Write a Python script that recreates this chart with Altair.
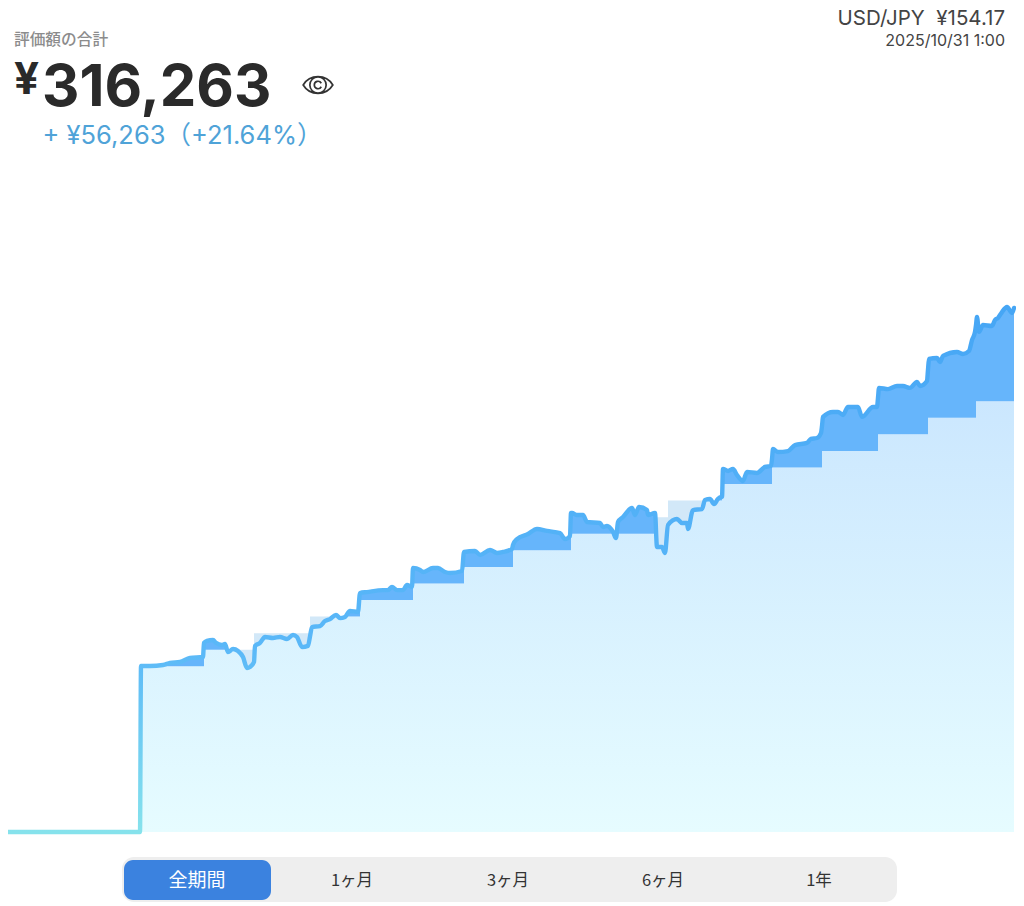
import bisect
import altair as alt
import pandas as pd

# Portfolio value (x position along the time axis, value in yen)
line_t = [8, 140, 141, 143, 150, 163, 170, 180, 190, 203, 204, 207, 213, 216, 222, 225, 228, 233, 238, 243, 247, 250, 254, 255,
          260, 265, 273, 280, 287, 293, 297, 302, 308, 310, 312, 320, 325, 330, 336, 340, 345, 350, 358, 360, 367, 383, 388,
          392, 397, 403, 407, 412, 413, 420, 423, 433, 438, 445, 450, 462, 464, 475, 480, 490, 497, 503, 512, 513, 517, 528,
          537, 547, 560, 565, 570, 571, 572, 577, 583, 587, 600, 603, 607, 613, 616, 618, 623, 632, 635, 639, 647, 648, 655,
          657, 662, 665, 668, 677, 682, 687, 688, 693, 702, 705, 710, 714, 718, 721, 722, 723, 728, 733, 737, 743, 747, 757,
          765, 771, 772, 773, 778, 788, 795, 807, 811, 817, 821, 822, 823, 833, 838, 843, 848, 858, 862, 873, 877, 878, 879,
          888, 897, 903, 910, 917, 920, 927, 928, 929, 937, 940, 943, 957, 963, 969, 972, 975, 976, 977, 979, 983, 992, 995,
          998, 1002, 1007, 1012, 1014]
line_v = [0, 0, 100200, 100200, 100200, 100800, 102000, 102600, 105000, 105600, 114100, 115300, 115900, 114100, 112900, 113500,
          108600, 110400, 109200, 105600, 99000, 99600, 102600, 112300, 114100, 117700, 117100, 117700, 116500, 118900, 117700,
          111600, 112300, 118000, 123700, 124300, 127300, 128500, 131000, 129100, 129800, 133400, 132800, 144200, 144800, 146000,
          146000, 147900, 146000, 146000, 149100, 147900, 159300, 158100, 156900, 159300, 159300, 156900, 156300, 157500, 169000,
          169600, 167200, 170200, 168400, 169000, 170800, 173200, 176800, 179800, 182900, 181700, 180400, 176800, 178600, 192500,
          192500, 191300, 191300, 187100, 186500, 184100, 184700, 181100, 177400, 187100, 190100, 195500, 191300, 196100, 194300,
          191300, 192500, 172000, 172000, 168400, 185300, 188900, 186500, 186500, 182900, 194300, 194900, 200400, 201000, 197900,
          201000, 202200, 202200, 219100, 217900, 219100, 215400, 211800, 217300, 216700, 220300, 220900, 225000, 231100, 229300,
          229900, 233500, 234800, 237200, 237800, 240800, 245000, 250500, 253500, 253500, 251700, 256500, 256500, 250500, 256500,
          256500, 262000, 268000, 267300, 269200, 269200, 268000, 271600, 269200, 272200, 279000, 285500, 286100, 283600, 287300,
          289700, 288500, 290300, 296900, 301800, 306000, 310800, 301800, 306000, 305400, 309000, 310200, 313800, 316800, 313200,
          316263]

# Invested principal: start of each step and its amount in yen
step_t = [141, 204, 254, 310, 360, 413, 464, 513, 571, 655, 668, 722, 772, 822, 878, 928, 976]
step_v = [100000, 110000, 120000, 130000, 140000, 150000, 160000, 170000, 180000, 190000, 200000, 210000, 220000, 230000,
          240000, 250000, 260000]

title_label = "評価額の合計"
total_symbol = "¥"
total_value = "316,263"
gain_label = "+ ¥56,263（+21.64%）"
fx_label = "USD/JPY\u00a0\u00a0¥154.17"
date_label = "2025/10/31 1:00"
tabs = ["全期間", "1ヶ月", "3ヶ月", "6ヶ月", "1年"]
tab_center = [189, 344, 500, 655, 811]


def step_at(t):
    i = bisect.bisect_right(step_t, t) - 1
    return step_v[i] if i >= 0 else 0


rows = []
for t, v in zip(line_t, line_v):
    s = step_at(t)
    if t in step_t and t != 141:
        prev = step_v[step_t.index(t) - 1]
        rows.append(dict(t=t, line=v, step=prev, low=min(v, prev), high=max(v, prev), zero=0))
    rows.append(dict(t=t, line=v, step=s, low=min(v, s), high=max(v, s), zero=0))
df = pd.DataFrame(rows)

W, H = 1008, 894
xs = alt.Scale(domain=[8, 1016], range=[0, W], nice=False, zero=False)
ys = alt.Scale(domain=[-42245, 497284], range=[H, 0], nice=False, zero=False)
X = alt.X("t:Q", scale=xs, axis=None)


def Y(f):
    return alt.Y(f + ":Q", scale=ys, axis=None)


base = alt.Chart(df).mark_area(
    interpolate="linear",
    color=alt.Gradient(gradient="linear", x1=0, x2=0, y1=0, y2=1,
                       stops=[alt.GradientStop(color="#cbe7fe", offset=0),
                              alt.GradientStop(color="#e6fcff", offset=1)]),
).encode(x=X, y=Y("low"), y2="zero:Q")
dark = alt.Chart(df).mark_area(color="#66b5fb").encode(x=X, y=Y("high"), y2="step:Q")
patch = alt.Chart(df).mark_area(color="#d2e8f8").encode(x=X, y=Y("step"), y2="low:Q")
line = alt.Chart(pd.DataFrame(dict(t=line_t, v=line_v))).mark_line(
    strokeWidth=4.4, strokeJoin="round", strokeCap="round", interpolate="monotone",
    color=alt.Gradient(gradient="linear", x1=0, x2=0, y1=0, y2=1,
                       stops=[alt.GradientStop(color="#46a6f5", offset=0),
                              alt.GradientStop(color="#5ab8f8", offset=0.65),
                              alt.GradientStop(color="#86e2ec", offset=1)]),
).encode(x=X, y=alt.Y("v:Q", scale=ys, axis=None))

LAT = "Inter, 'Noto Sans CJK JP', sans-serif"
JP = "'Noto Sans CJK JP', sans-serif"


def text(s, x, y, size, color, font=LAT, weight="normal", align="left"):
    return alt.Chart(pd.DataFrame({"s": [s]})).mark_text(
        fontSize=size, color=color, font=font, fontWeight=weight, align=align, baseline="middle"
    ).encode(x=alt.value(x), y=alt.value(y), text="s:N")


def rect(x, x2, y, y2, color, r, **kw):
    return alt.Chart(pd.DataFrame({"a": [0]})).mark_rect(color=color, cornerRadius=r, **kw).encode(
        x=alt.value(x), x2=alt.value(x2), y=alt.value(y), y2=alt.value(y2))


eye = alt.Chart(pd.DataFrame({"a": [0]})).mark_point(
    shape="M-1,0 C-0.55,-0.75 0.55,-0.75 1,0 C0.55,0.75 -0.55,0.75 -1,0 Z "
          "M-0.55,0 A0.55,0.55 0 1 1 0.55,0 A0.55,0.55 0 1 1 -0.55,0 Z "
          "M0.22,-0.12 A0.25,0.25 0 1 0 0.22,0.12",
    filled=False, stroke="#333333", strokeWidth=1.7, size=880, opacity=1,
).encode(x=alt.value(310), y=alt.value(77))

layers = [base, patch, dark, line,
          text(title_label, 6, 32, 15.7, "#8c8c8c", JP, 500),
          text(total_symbol, 6, 73, 44, "#2a2a2a", LAT, "bold"),
          text(total_value, 34, 81, 58, "#2a2a2a", LAT, "bold"),
          eye,
          text(gain_label, 34.5, 128, 25.5, "#4fa3d8"),
          text(fx_label, 997, 10.5, 20.5, "#444444", align="right"),
          text(date_label, 997, 33, 16, "#444444", align="right"),
          rect(114, 889, 849, 894, "#eeeeee", 12),
          rect(116, 263, 852, 892, "#3b82df", 9)]
for i, (t, c) in enumerate(zip(tabs, tab_center)):
    layers.append(text(t, c, 873, 19 if i == 0 else 16.5, "#ffffff" if i == 0 else "#333333", JP, align="center"))

chart = alt.layer(*layers).properties(
    width=W, height=H, padding=0, autosize=alt.AutoSizeParams(type="none"), background="#ffffff"
).configure_view(stroke=None)

chart.save("out.html", embed_options={"renderer": "svg", "actions": False})
